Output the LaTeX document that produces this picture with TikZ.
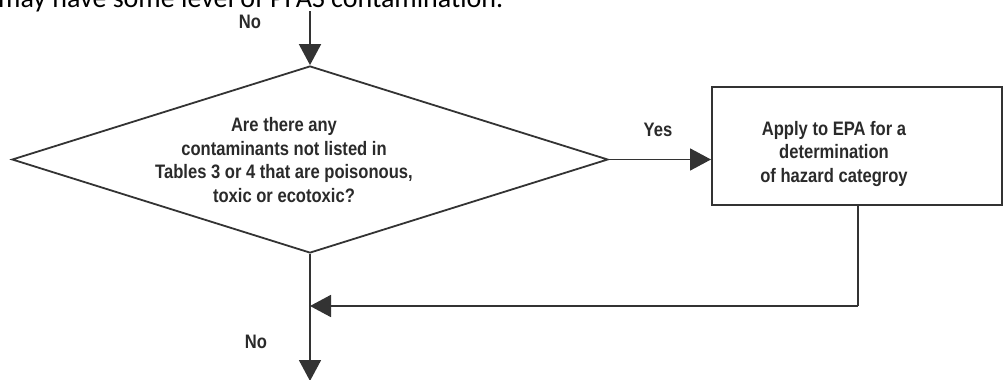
\documentclass[tikz,border=0pt]{standalone}
\usepackage{fontspec}
\setmainfont{Liberation Sans}[FakeStretch=0.85]
\newfontfamily\carlito{Carlito}
\usetikzlibrary{shapes.geometric,arrows.meta}
\definecolor{ink}{HTML}{2A2A2A}
\definecolor{linec}{HTML}{333333}
\tikzset{
  flowline/.style={draw=linec,line width=1.8pt},
  flowarrow/.style={flowline,-{Triangle[length=21pt,width=22pt]}},
  labeltext/.style={text=ink,font=\bfseries\fontsize{19.5}{23.5}\selectfont,inner sep=0pt,align=center},
}
\begin{document}
\begin{tikzpicture}[x=1pt,y=-1pt]
\useasboundingbox (0,0) rectangle (1004,380);
% clipped header line
\node[anchor=base west,inner sep=0pt,text=black,font=\carlito\fontsize{28}{32}\selectfont] (hdr) at (-2,7.5) {may have some level of PFAS contamination.};
% shapes
\node[draw=linec,line width=1.8pt,shape=diamond,minimum width=596pt,minimum height=187pt,inner sep=0pt] (q) at (310,159.5) {};
\node[labeltext] (qtext) at (284,160) {Are there any\\contaminants not listed in\\Tables 3 or 4 that are poisonous,\\toxic or ecotoxic?};
\node[draw=linec,line width=2pt,minimum width=290pt,minimum height=118pt,inner sep=0pt] (apply) at (857,146) {};
\node[labeltext] (applytext) at (834,153.5) {Apply to EPA for a\\determination\\of hazard categroy};
% coordinates
\coordinate (top) at (310,11);
\coordinate (join) at (310,306);
\coordinate (bend) at (858,306);
\coordinate (exit) at (310,381);
% connectors
\draw[flowarrow] (top) -- (q.north);
\draw[flowarrow] (q.east) -- (q.east -| apply.west);
\draw[flowline] (apply.south -| bend) -- (bend);
\draw[flowarrow] (bend) -- (join);
\draw[flowarrow] (q.south) -- (exit);
% labels
\node[labeltext] (no1) at (250,22) {No};
\node[labeltext] (yes) at (658,130) {Yes};
\node[labeltext] (no2) at (256,342) {No};
\end{tikzpicture}
\end{document}
